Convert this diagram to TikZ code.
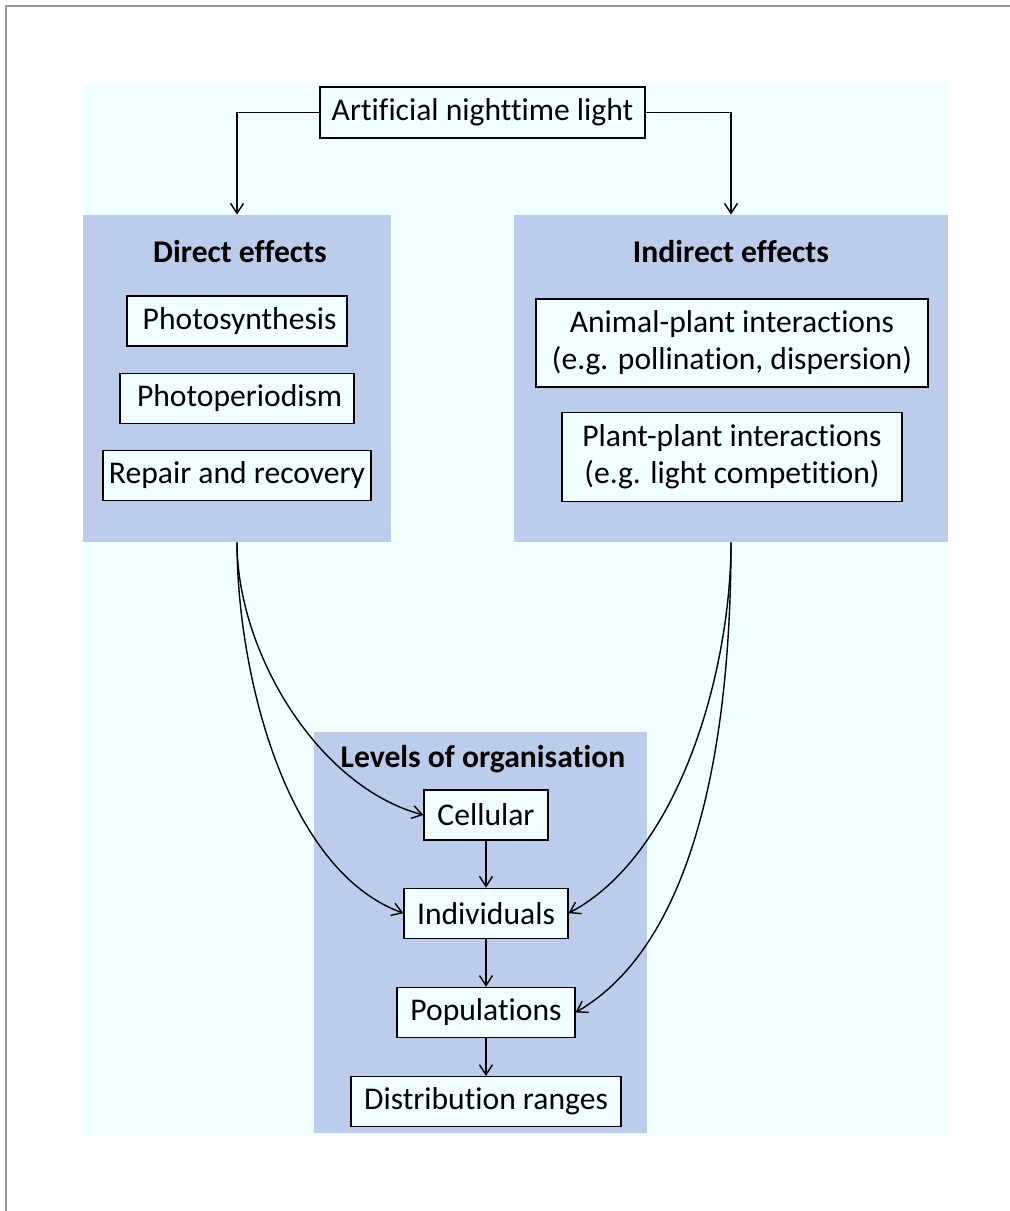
\documentclass[tikz,border=0pt]{standalone}
\usepackage{fontspec}
\setmainfont{Carlito}[Ligatures=NoCommon]
\usepackage{tikz}
\usetikzlibrary{arrows.meta, positioning}
\definecolor{bgcyan}{RGB}{240,255,255}
\definecolor{panelblue}{RGB}{187,205,235}
\definecolor{framegray}{RGB}{150,150,150}
\tikzset{
  line/.style={draw=black, line width=0.7pt},
  arrow/.style={draw=black, line width=0.7pt, -{Straight Barb[length=5pt, width=6.5pt, line width=0.7pt]}},
  panel/.style={fill=panelblue, draw=none, rectangle, inner sep=0pt},
  title/.style={font=\fontsize{15.8pt}{18.5pt}\selectfont\bfseries, inner sep=0pt},
  box/.style={draw=black, line width=0.6pt, fill=bgcyan, rectangle, align=center, font=\fontsize{15.8pt}{18.5pt}\selectfont, minimum height=25pt, inner sep=2pt}
}
\begin{document}
\begin{tikzpicture}[x=0.5pt, y=-0.5pt]
  \useasboundingbox (0,0) rectangle (1010,1211);
  \draw [framegray, line width=0.6pt] (6,1211) -- (6,6) -- (1010,6);
  \fill [bgcyan] (83,83) rectangle (948,1137);

  % panels
  \node [panel, minimum width=154pt, minimum height=163.5pt] (direct) at (237,378.5) {};
  \node [panel, minimum width=217pt, minimum height=163.5pt] (indirect) at (731,378.5) {};
  \node [panel, minimum width=166.5pt, minimum height=200.5pt] (levels) at (480.5,932.5) {};

  \node [box, minimum width=162.5pt, minimum height=25.5pt] (light) at (482.5,112.5) {Artificial nighttime light};

  % direct effects
  \node [title] (dtitle) at (240,252) {Direct effects};
  \node [box, minimum width=110pt] (photo) at (237,321) {\,Photosynthesis};
  \node [box, minimum width=117pt, below=13pt of photo] (period) {\,Photoperiodism};
  \node [box, minimum width=134pt, below=13pt of period] (repair) {Repair and recovery};

  % indirect effects
  \node [title] (ititle) at (731,252) {Indirect effects};
  \node [box, minimum width=196pt, minimum height=44pt] (animal) at (732,343) {Animal-plant interactions\\(e.g. pollination, dispersion)};
  \node [box, minimum width=170pt, minimum height=44.5pt, below=12pt of animal] (plant) {Plant-plant interactions\\(e.g. light competition)};

  % levels of organisation
  \node [title] (ltitle) at (483,759) {Levels of organisation};
  \node [box, minimum width=62pt] (cell) at (486,815) {Cellular};
  \node [box, minimum width=82pt, below=23.5pt of cell] (indiv) {Individuals};
  \node [box, minimum width=89pt, below=24pt of indiv] (popul) {Populations};
  \node [box, minimum width=135pt, below=19pt of popul] (distr) {Distribution ranges};

  \draw [arrow] (light.west) -| (direct.north);
  \draw [arrow] (light.east) -| (indirect.north);

  \draw [arrow] (cell) -- (indiv);
  \draw [arrow] (indiv) -- (popul);
  \draw [arrow] (popul) -- (distr);

  \draw [arrow] (direct.south) to[out=-90, in=165, looseness=0.85] (cell.west);
  \draw [arrow] (direct.south) to[out=-90, in=160, looseness=0.8] (indiv.west);
  \draw [arrow] (indirect.south) to[out=-90, in=28, looseness=0.8] (indiv.east);
  \draw [arrow] (indirect.south) to[out=-90, in=30, looseness=0.8] (popul.east);
\end{tikzpicture}
\end{document}
